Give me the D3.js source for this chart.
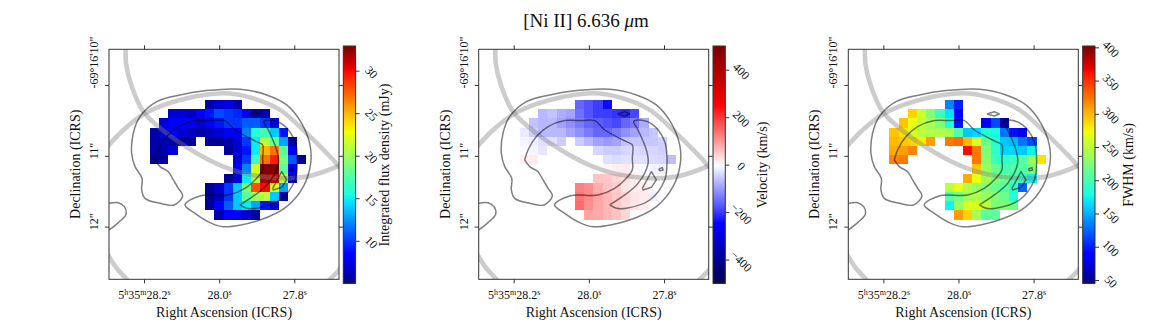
<!DOCTYPE html>
<html>

<head>

<meta charset="utf-8">
<style>

    body {
        margin: 0;
        background: #fff;
    }

    text {
        font-family: "Liberation Serif", serif;
        fill: #111;
    }

    .frame {
        fill: none;
        stroke: #333;
        stroke-width: 1;
    }

    .domain {
        display: none;
    }

    .tick line {
        stroke: #333;
    }

    .arc {
        fill: none;
        stroke: #808080;
        stroke-opacity: 0.4;
        stroke-width: 4.6;
    }

    .contour {
        fill: none;
        stroke: #000;
        stroke-opacity: 0.5;
        stroke-width: 1.5;
        stroke-linejoin: round;
    }

</style>

</head>

<body>

<script src="https://d3js.org/d3.v7.min.js"></script>

<script>

    var _ = null;

    // spaxel maps, row 0 is the top row of the cut-out
    var fluxRows = [
        [_,_,_,_,_,_,6,7,7.5,6,_,_,_,_,_,_,_],
        [_,_,7,7,6.5,8,9,10.5,10,9.5,8,6,6,_,_,_,_],
        [_,7,8.5,8.5,8,7,8,9,10,10,11,11,10,7.5,_,_,_],
        [6,7,8,7,6.5,6,6.5,7,8,8.5,12,16,17,14,9,_,_],
        [6,6.5,6,5.5,5.5,_,5.5,5.5,6,7,10,15,21,18,13,6,_],
        [6,6,7,_,_,_,_,_,5.5,7,9,15,25,27,18,8,_],
        [5.5,5.5,_,_,_,_,_,_,_,7,10,17,27,29.5,19,11,5.5],
        [_,_,_,_,_,_,_,_,_,8,12,22,33,33,18,8,_],
        [_,_,_,_,_,_,_,_,5.5,7,15,21,32,31,21,7,_],
        [_,_,_,_,_,_,5.5,7,10,14,19,28,30,22,13,_,_],
        [_,_,_,_,_,_,5.5,6.5,10,14,18,20,21,14,6,_,_],
        [_,_,_,_,_,_,5.5,8,11,14,15,13,9,7,_,_,_],
        [_,_,_,_,_,_,_,6,8,8,7,5.5,_,_,_,_,_]
    ];

    var velocityRows = [
        [_,_,_,_,_,_,-150,-170,-190,-240,_,_,_,_,_,_,_],
        [_,_,-70,-60,-80,-90,-140,-170,-190,-190,-200,-210,-180,_,_,_,_],
        [_,-60,-70,-70,-90,-110,-130,-150,-160,-170,-180,-150,-130,-80,_,_,_],
        [-20,-50,-70,-70,-70,-90,-110,-130,-150,-150,-130,-110,-90,-70,-55,_,_],
        [-10,-15,-30,-30,-50,_,-50,-70,-90,-100,-90,-60,-55,-55,-55,-45,_],
        [-5,-10,-25,_,_,_,_,_,-40,-50,-50,-40,-35,-40,-40,-45,_],
        [15,20,_,_,_,_,_,_,_,-30,-35,-30,-30,-30,-35,-40,-65],
        [_,_,_,_,_,_,_,_,_,10,15,20,10,-5,-12,-15,_],
        [_,_,_,_,_,_,_,_,60,55,40,30,20,5,-3,-3,_],
        [_,_,_,_,_,_,125,110,80,60,50,25,20,15,3,_,_],
        [_,_,_,_,_,_,135,115,90,70,55,40,25,20,-15,_,_],
        [_,_,_,_,_,_,145,110,85,70,55,35,25,18,_,_,_],
        [_,_,_,_,_,_,_,90,85,70,60,40,_,_,_,_,_]
    ];

    var fwhmRows = [
        [_,_,_,_,_,_,135,100,_,_,_,_,_,_,_,_,_],
        [_,_,290,258,225,195,170,90,_,_,_,_,_,_,_,_,_],
        [_,295,270,255,240,225,180,95,_,_,85,115,58,_,_,_,_],
        [295,285,265,250,245,245,240,205,160,165,185,180,130,95,80,_,_],
        [300,295,290,280,310,_,325,330,300,265,215,185,160,155,130,115,_],
        [305,310,320,_,_,_,_,_,365,325,225,190,165,165,160,175,_],
        [320,325,_,_,_,_,_,_,_,325,230,195,190,195,205,235,285],
        [_,_,_,_,_,_,_,_,_,295,235,215,200,205,205,225,_],
        [_,_,_,_,_,_,_,_,305,270,240,225,215,200,190,175,_],
        [_,_,_,_,_,_,250,270,245,235,225,215,205,190,125,_,_],
        [_,_,_,_,_,_,205,220,240,245,235,225,215,185,_,_,_],
        [_,_,_,_,_,_,175,235,265,265,250,225,225,220,_,_,_],
        [_,_,_,_,_,_,_,310,290,240,210,210,_,_,_,_,_]
    ];

    // contours and ring arcs in spaxel coordinates of the full 25x25 cube slice
    var contourMain = [[4.5,11.53],[5.04,12.25],[5.95,12.8],[6.49,13.7],[7.04,14.61],[7.51,15.44],[6.6,16.42],[5.04,16.24],[3.41,15.7],[3.05,14.79],[3.09,13.52],[2.33,12.25],[1.96,10.8],[2.14,8.63],[2.87,6.82],[4.68,5.19],[7.22,4.46],[10.12,3.99],[13.74,3.85],[16.64,4.46],[18.81,5.55],[20.44,7.54],[21.35,9.9],[21.42,11.89],[20.62,14.43],[18.81,16.6],[15.91,18.05],[11.93,18.78],[10.48,18.34],[8.85,17.33],[7.76,16.42],[9.39,15.44],[12.47,15.33],[14.28,14.61],[15.55,13.52],[16.2,12.6],[16.2,11.35],[16.2,9.9],[15.55,9.54],[14.46,8.99],[13.2,8.27],[12.11,7.25],[10.66,7.25],[8.85,7.25],[7.04,7.91],[5.77,8.99],[4.86,10.44],[4.5,11.53]];
    var contourCrescent = [[13.74,16.42],[15.37,15.33],[16.82,14.07],[17.91,11.89],[17.72,10.44],[16.82,8.27],[16.35,7.36],[17,7.18],[18.45,7.72],[19.72,9.54],[19.97,11.53],[19.72,13.7],[18.09,15.88],[15.55,16.78],[14.46,16.78],[13.74,16.42]];
    var contourLoop = [[17.29,14.61],[18.27,12.8],[18.81,13.7],[18.27,14.5],[17.36,14.79],[17.29,14.61]];
    var contourDiamond = [[14.57,6.53],[15.37,6.28],[15.91,6.53],[15.37,6.75],[14.57,6.53]];
    var contourSpot = [[19.07,12.5],[19.46,12.36],[19.54,12.62],[19.17,12.69],[19.07,12.5]];
    var contourLeft = [[-0.5,16.24],[0.51,16.17],[1.17,16.6],[1.35,17.43],[0.51,18.34],[-0.5,19.14]];
    var contours = [contourMain, contourCrescent, contourLeft];
    var smallContours = [contourLoop, contourDiamond, contourSpot];

    var arcUpper = [[-1.12,10.62],[-0.5,9.9],[1.06,8.27],[3.59,6.38],[7.22,5.01],[11.93,4.28],[15.19,4.83],[18.09,6.09],[20.99,8.63],[24.46,12.18],[25.33,13.34]];
    var arcLower = [[1.31,-1.15],[1.31,-0.54],[1.35,1.02],[1.86,3.2],[3.23,6.28],[5.77,8.63],[9.03,10.8],[11.93,12.25],[14.46,13.05],[18.09,13.52],[20.99,13.34],[24.46,12.18],[25.33,11.71]];
    var arcBottomLeft = [[-1.12,20.95],[-0.5,22.04],[0.33,23.3],[1.42,24.5],[2.14,25.48]];
    var arcBottomRight = [[24.97,22.76],[24.46,23.56],[23.52,24.5],[22.8,25.3]];
    var arcs = [arcUpper, arcLower, arcBottomLeft, arcBottomRight];

    var raTicks = [28.2, 28.0, 27.8];
    var decTicks = [10, 11, 12];
    var raLabels = ["5<tspan dy='-4' font-size='8'>h</tspan><tspan dy='4'>35</tspan><tspan dy='-4' font-size='8'>m</tspan><tspan dy='4'>28.2</tspan><tspan dy='-4' font-size='8'>s</tspan>",
        "28.0<tspan dy='-4' font-size='8'>s</tspan>", "27.8<tspan dy='-4' font-size='8'>s</tspan>"];
    var decLabels = ["-69\u00b016'10\"", "11\"", "12\""];

    var fluxTicks = [10, 15, 20, 25, 30];
    var velocityTicks = [-400, -200, 0, 200, 400];
    var fwhmTicks = [50, 100, 150, 200, 250, 300, 350, 400];

    // matplotlib jet, channel by channel
    var jetR = d3.scaleLinear().domain([0, 0.35, 0.66, 0.89, 1]).range([0, 0, 1, 1, 0.5]);
    var jetG = d3.scaleLinear().domain([0, 0.125, 0.375, 0.64, 0.91, 1]).range([0, 0, 1, 1, 0, 0]);
    var jetB = d3.scaleLinear().domain([0, 0.11, 0.34, 0.65, 1]).range([0.5, 1, 1, 0, 0]);
    var jet = function(t) {
        return d3.rgb(jetR(t) * 255, jetG(t) * 255, jetB(t) * 255).toString();
    };
    var seismic = d3.scaleLinear()
        .domain([0, 0.25, 0.5, 0.75, 1])
        .range(["#00004c", "#0000ff", "#ffffff", "#ff0000", "#7f0000"]);

    var width = 1172, height = 325;
    var size = 230, plotTop = 49.3, plotBottom = plotTop + size;
    var cbTop = 46, cbBottom = 283.3, cbWidth = 12.3;
    var tickFont = 12, labelFont = 14;

    // cut-out corner in the spaxel coordinates used for the contours
    var originU = 3.96, originV = 5.01;

    var svg = d3.select("body").append("svg")
        .attr("width", width)
        .attr("height", height);

    svg.append("text")
        .attr("x", 586)
        .attr("y", 27)
        .attr("text-anchor", "middle")
        .attr("font-size", 19)
        .html("[Ni II] 6.636 <tspan font-style='italic'>\u03bc</tspan>m");

    var panels = [
        {left: 109, cbLeft: 343.3, rows: fluxRows, cmap: jet, range: [5, 32.9], ticks: fluxTicks, label: "Integrated flux density (mJy)", labelX: 389},
        {left: 478.7, cbLeft: 713, rows: velocityRows, cmap: seismic, range: [-500, 500], ticks: velocityTicks, label: "Velocity (km/s)", labelX: 767},
        {left: 848.3, cbLeft: 1082.7, rows: fwhmRows, cmap: jet, range: [45, 402], ticks: fwhmTicks, label: "FWHM (km/s)", labelX: 1133}
    ];

    panels.forEach(function(p, i) { drawPanel(p, i); });

    function drawPanel(p, i) {

        var g = svg.append("g").attr("class", "panel");

        var x = d3.scaleLinear().domain([-0.5, 24.5]).range([p.left, p.left + size]);
        var y = d3.scaleLinear().domain([-0.5, 24.5]).range([plotTop, plotBottom]);
        var ra = d3.scaleLinear().domain([28.2933, 27.681]).range([p.left, p.left + size]);
        var dec = d3.scaleLinear().domain([9.4965, 12.7435]).range([plotTop, plotBottom]);
        var colN = d3.scaleLinear().domain(p.range).range([0, 1]).clamp(true);

        var clipId = "clip" + i;
        g.append("clipPath").attr("id", clipId).append("rect")
            .attr("x", p.left).attr("y", plotTop)
            .attr("width", size).attr("height", size);

        var cells = [];
        p.rows.forEach(function(row, r) {
            row.forEach(function(v, c) {
                if (v !== null) cells.push({c: c + originU, r: r + originV, v: v});
            });
        });

        // snap cell edges to whole pixels so no seams show between them
        g.append("g").selectAll("rect")
            .data(cells)
            .enter().append("rect")
            .attr("x", function(d) { return Math.round(x(d.c)); })
            .attr("y", function(d) { return Math.round(y(d.r)); })
            .attr("width", function(d) { return Math.round(x(d.c + 1)) - Math.round(x(d.c)); })
            .attr("height", function(d) { return Math.round(y(d.r + 1)) - Math.round(y(d.r)); })
            .attr("shape-rendering", "crispEdges")
            .attr("fill", function(d) { return p.cmap(colN(d.v)); });

        var smooth = d3.line()
            .x(function(d) { return x(d[0]); })
            .y(function(d) { return y(d[1]); })
            .curve(d3.curveCatmullRom);

        var plain = d3.line()
            .x(function(d) { return x(d[0]); })
            .y(function(d) { return y(d[1]); });

        var overlay = g.append("g").attr("clip-path", "url(#" + clipId + ")");

        overlay.selectAll("path.arc")
            .data(arcs)
            .enter().append("path")
            .attr("class", "arc")
            .attr("d", smooth);

        overlay.selectAll("path.contour")
            .data(contours)
            .enter().append("path")
            .attr("class", "contour")
            .attr("d", smooth);

        overlay.selectAll("path.small")
            .data(smallContours)
            .enter().append("path")
            .attr("class", "contour small")
            .attr("d", plain);

        g.append("rect")
            .attr("class", "frame")
            .attr("x", p.left).attr("y", plotTop)
            .attr("width", size).attr("height", size);

        // axes, ticks on all four sides but labels only left and bottom
        var xAxis = g.append("g")
            .attr("transform", "translate(0," + plotBottom + ")")
            .call(d3.axisBottom(ra).tickValues(raTicks).tickSize(4).tickPadding(7));
        xAxis.selectAll("text")
            .attr("font-size", tickFont)
            .html(function(d, j) { return raLabels[j]; });

        g.append("g")
            .attr("transform", "translate(0," + plotTop + ")")
            .call(d3.axisTop(ra).tickValues(raTicks).tickSize(4).tickFormat(""));

        var yAxis = g.append("g")
            .attr("transform", "translate(" + p.left + ",0)")
            .call(d3.axisLeft(dec).tickValues(decTicks).tickSize(4));
        yAxis.selectAll("text")
            .attr("font-size", tickFont)
            .attr("text-anchor", "start")
            .attr("dy", 0)
            .attr("x", 0)
            .attr("transform", "translate(-11,3) rotate(-90)")
            .text(function(d, j) { return decLabels[j]; });

        g.append("g")
            .attr("transform", "translate(" + (p.left + size) + ",0)")
            .call(d3.axisRight(dec).tickValues(decTicks).tickSize(4).tickFormat(""));

        g.append("text")
            .attr("x", p.left + size / 2)
            .attr("y", 317)
            .attr("text-anchor", "middle")
            .attr("font-size", labelFont)
            .text("Right Ascension (ICRS)");

        g.append("text")
            .attr("transform", "translate(" + (p.left - 29) + "," + (plotTop + size / 2) + ") rotate(-90)")
            .attr("text-anchor", "middle")
            .attr("font-size", labelFont)
            .text("Declination (ICRS)");

        // colour bar
        var cb = d3.scaleLinear().domain(p.range).range([cbBottom, cbTop]);
        var steps = d3.range(0, 240);
        g.append("g").selectAll("rect")
            .data(steps)
            .enter().append("rect")
            .attr("x", p.cbLeft)
            .attr("y", function(d) { return cbBottom - (d + 1) * (cbBottom - cbTop) / steps.length; })
            .attr("width", cbWidth)
            .attr("height", (cbBottom - cbTop) / steps.length + 0.6)
            .attr("fill", function(d) { return p.cmap(d / (steps.length - 1)); });

        g.append("rect")
            .attr("class", "frame")
            .attr("x", p.cbLeft).attr("y", cbTop)
            .attr("width", cbWidth).attr("height", cbBottom - cbTop);

        var cbAxis = g.append("g")
            .attr("transform", "translate(" + (p.cbLeft + cbWidth) + ",0)")
            .call(d3.axisRight(cb).tickValues(p.ticks).tickSize(4).tickFormat(function(d) {
                return String(d).replace("-", "\u2212");
            }));
        cbAxis.selectAll("text")
            .attr("font-size", tickFont)
            .attr("text-anchor", "middle")
            .attr("x", 0)
            .attr("dy", 0)
            .attr("transform", "translate(13,4) rotate(45)");

        g.append("text")
            .attr("transform", "translate(" + p.labelX + ",165) rotate(-90)")
            .attr("text-anchor", "middle")
            .attr("font-size", labelFont)
            .text(p.label);
    }

</script>
</body>
</html>
